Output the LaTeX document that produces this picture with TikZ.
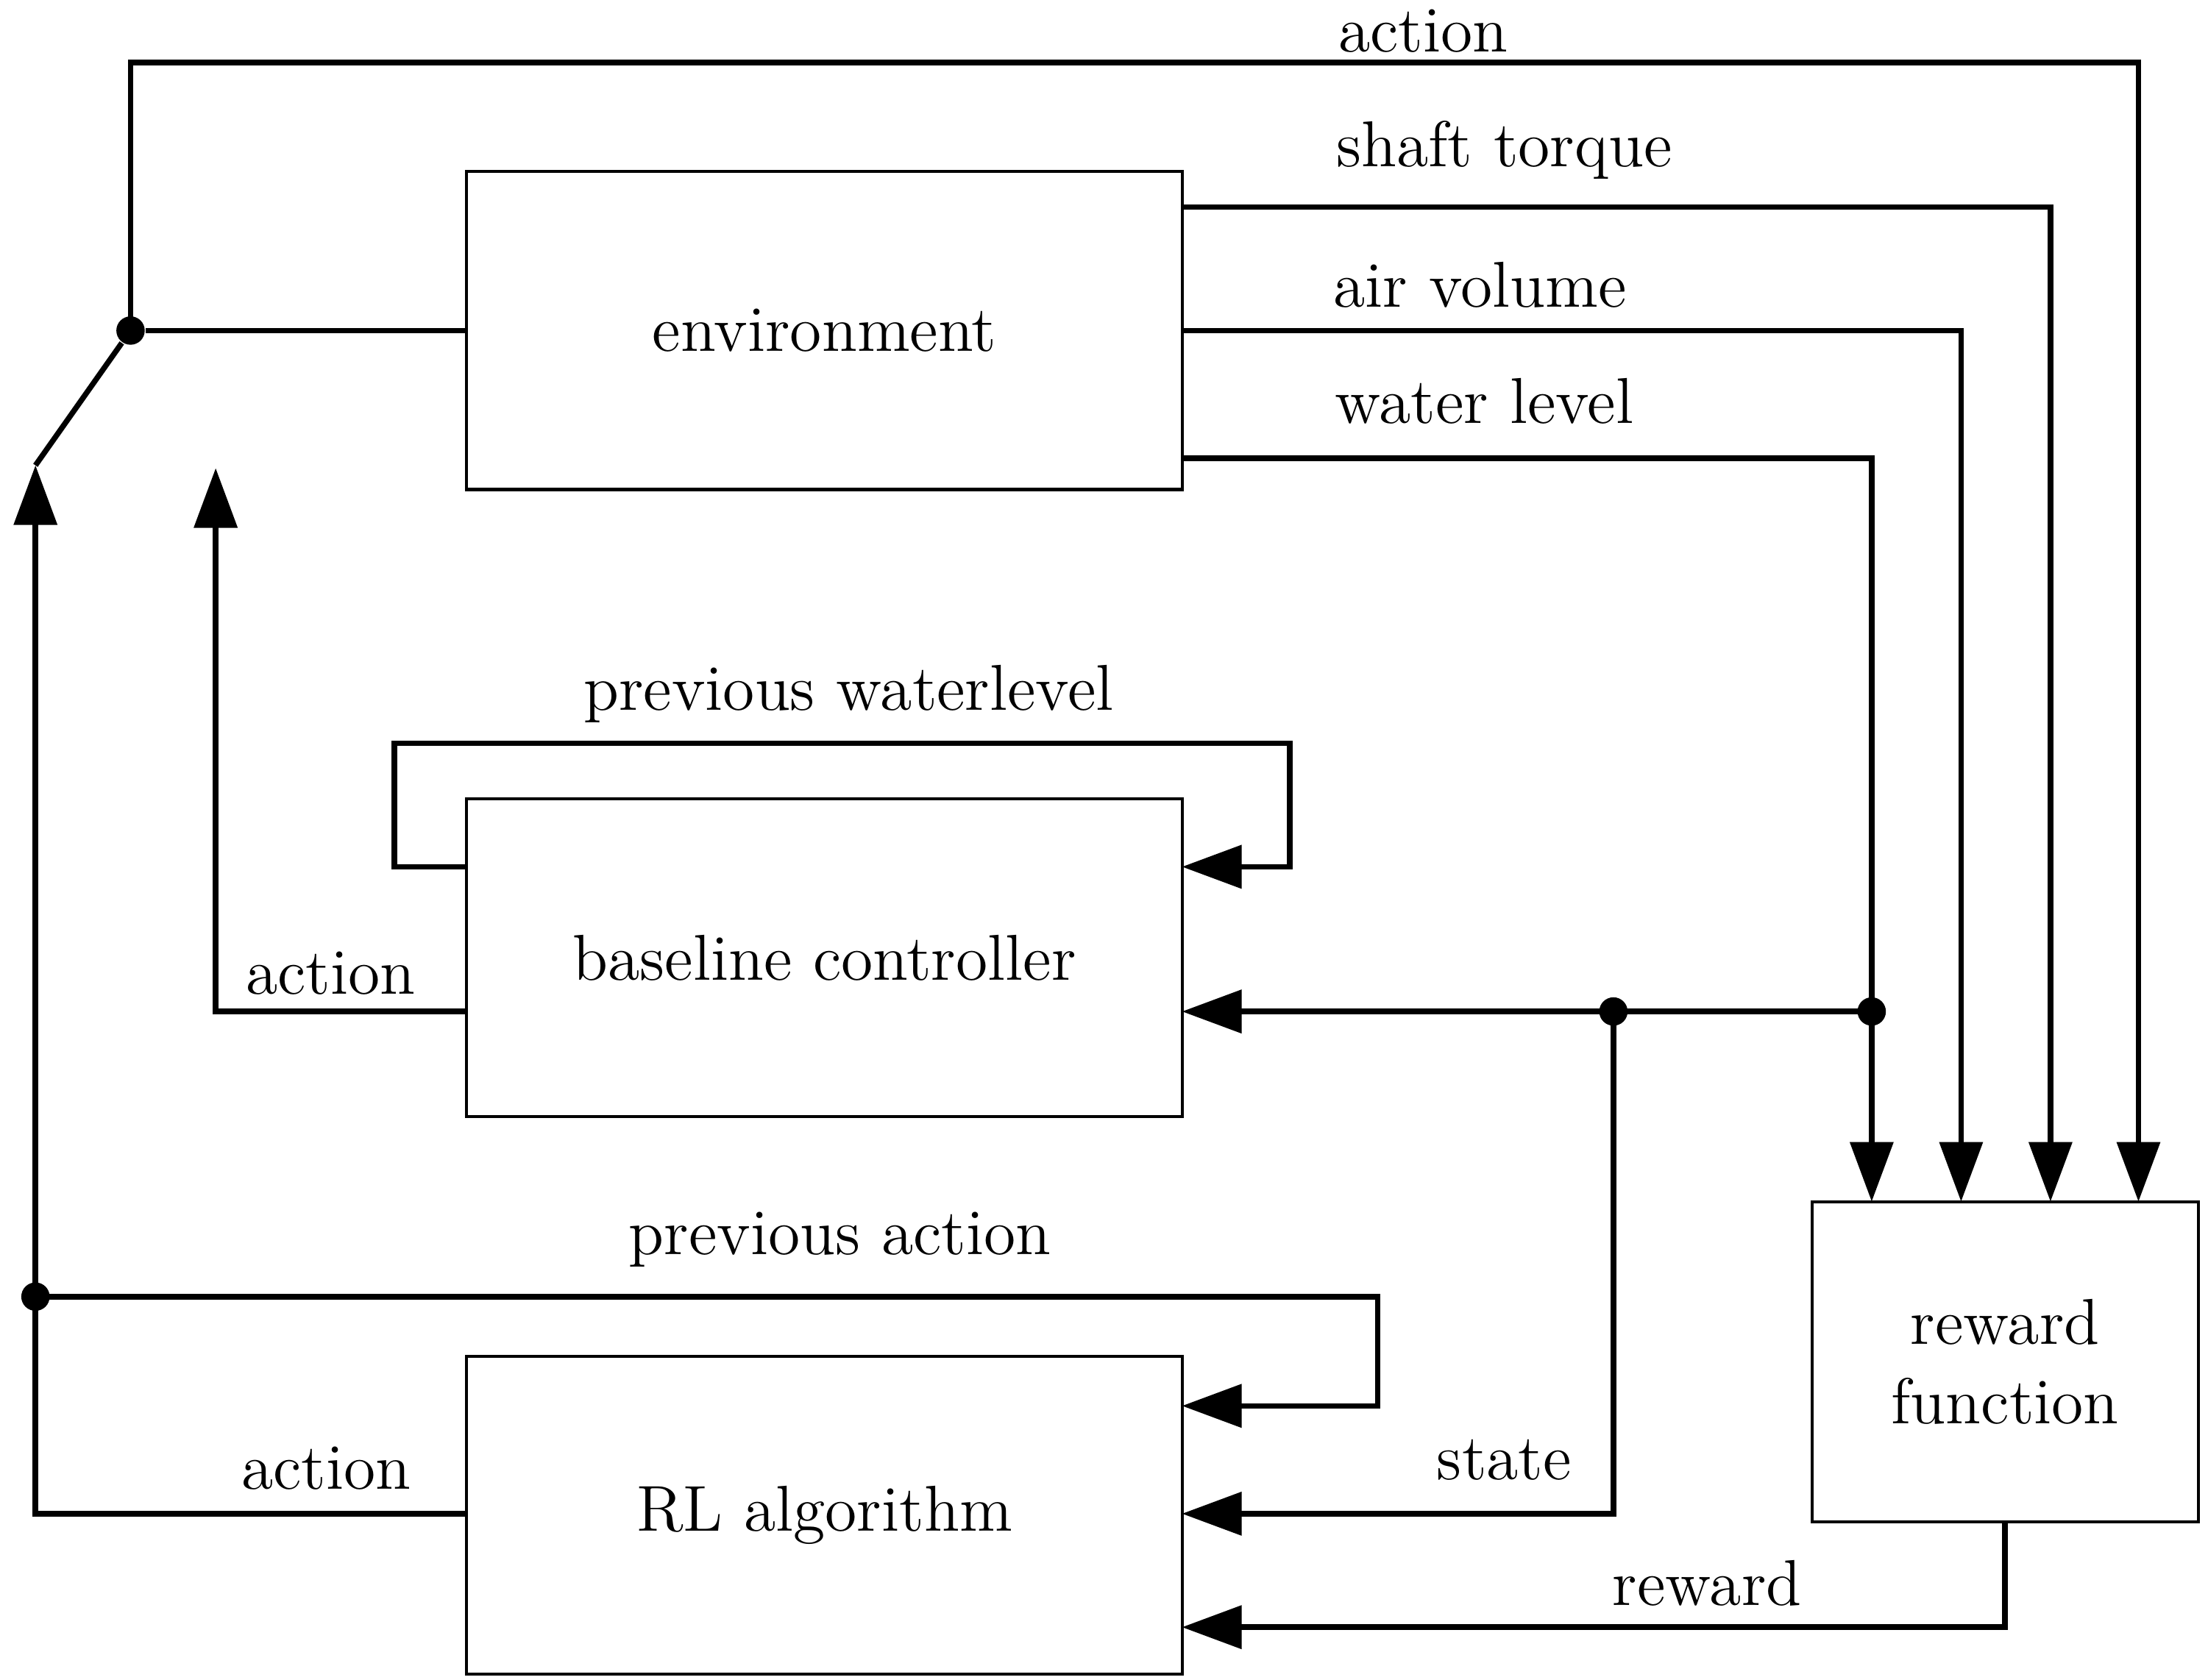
\documentclass[tikz,border=0pt]{standalone}
\usetikzlibrary{arrows.meta}
\begin{document}
\begin{tikzpicture}[x=0.01cm,y=-0.01cm,
 box/.style={draw,line width=0.6pt,minimum width=5.04cm,minimum height=2.24cm,inner sep=0pt,font=\fontsize{13}{16}\selectfont,align=center},
 ln/.style={line width=1.1pt},
 ar/.style={ln,-{Triangle[length=0.42cm,width=0.3cm]}},
 dot/.style={circle,fill,inner sep=0pt,minimum size=0.2cm},
 lab/.style={font=\fontsize{13}{16}\selectfont,inner sep=0pt}]
\useasboundingbox (0,0) rectangle (1556,1184);
\node[box] (env) at (581,233) {environment};
\node[box] (bc) at (581,675) {baseline controller};
\node[box] (rl) at (581,1068) {RL algorithm};
\node[box,minimum width=2.72cm,minimum height=2.25cm] (rf) at (1413,960) {reward\\function};
\node[dot] (sw) at (92,233) {};
\coordinate (swend) at (25,328);
\coordinate (bcup) at (152,330);
\node[dot] (d1) at (1319,713) {};
\node[dot] (d2) at (1137,713) {};
\node[dot] (d3) at (25,914) {};
% switch
\draw[ln] (sw) -- (swend);
\draw[ln] (sw) -- (env.west);
\draw[ar] (sw.center) -- (92,44) -- (1507,44) -- (1507,847);
\node[lab] (la1) at (1003,22) {action};
\draw[ar] (833,146) -- (1445,146) -- (1445,847);
\node[lab] (la2) at (1060,106) {shaft torque};
\draw[ar] (env.east) -- (1382,233) -- (1382,847);
\node[lab] (la3) at (1043,201) {air volume};
\draw[ar] (833,323) -- (1319,323) -- (1319,847);
\node[lab] (la4) at (1046,283) {water level};
% baseline
\draw[ar] (329,713) -- (152,713) -- (bcup);
\node[lab] (la5) at (233,686) {action};
\draw[ar] (329,611) -- (278,611) -- (278,524) -- (909,524) -- (909,611) -- (833,611);
\node[lab] (la6) at (598,489) {previous waterlevel};
\draw[ar] (d1.center) -- (833,713);
\draw[ar] (d2.center) -- (1137,1067) -- (833,1067);
\node[lab] (la7) at (1060,1029) {state};
% RL
\draw[ar] (329,1067) -- (25,1067) -- (swend);
\node[lab] (la8) at (230,1035) {action};
\draw[ar] (d3.center) -- (971,914) -- (971,991) -- (833,991);
\node[lab] (la9) at (592,874) {previous action};
\draw[ar] (rf.south) -- (1413,1147) -- (833,1147);
\node[lab] (la10) at (1203,1116) {reward};
\end{tikzpicture}
\end{document}
